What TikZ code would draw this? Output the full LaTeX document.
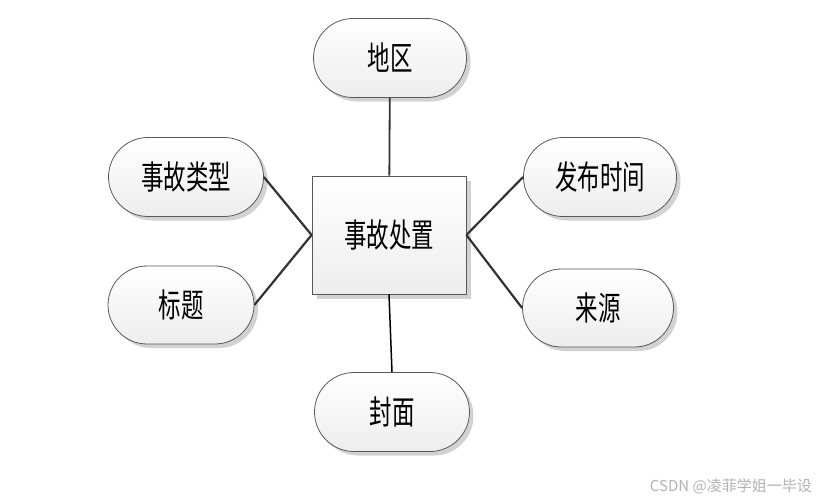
\documentclass[tikz,border=0pt]{standalone}
\usepackage{fontspec}
\newfontfamily\cjk[FakeStretch=0.68]{Noto Sans CJK SC}
\newfontfamily\wmfont{Noto Sans CJK SC}
\usetikzlibrary{positioning}
\usetikzlibrary{shapes.misc}
\usetikzlibrary{shadows}
\tikzset{>=latex}
\tikzstyle{attr} = [rounded rectangle, draw=black!65, line width=0.8pt, top color=white, bottom color=black!7, minimum width=153pt, minimum height=79pt, inner sep=0pt, font=\cjk\fontsize{33}{33}\selectfont, drop shadow={shadow xshift=4pt, shadow yshift=-4pt, fill=black!35, opacity=0.5}]
\tikzstyle{ent} = [rectangle, draw=black!65, line width=0.8pt, top color=white, bottom color=black!7, minimum width=154pt, minimum height=118pt, inner sep=0pt, font=\cjk\fontsize{33}{33}\selectfont, drop shadow={shadow xshift=5pt, shadow yshift=-5pt, fill=black!35, opacity=0.5}]
\tikzstyle{link} = [-, draw=black!80, line width=2.2pt]

\begin{document}
\begin{tikzpicture}[x=1pt, y=-1pt]
\useasboundingbox (0, 0) rectangle (825, 501);
\node [ent] (SG) at (389, 235) {事故处置};
\node [attr] (DQ) at (390, 58) {地区};
\node [attr, minimum width=155pt] (LX) at (186, 177) {事故类型};
\node [attr, minimum width=146pt, minimum height=78pt] (BT) at (181, 305) {标题};
\node [attr] (SJ) at (600, 177) {发布时间};
\node [attr, minimum width=151pt, minimum height=78pt] (LY) at (598, 308) {来源};
\node [attr, minimum width=155pt] (FM) at (392, 412) {封面};

\draw [link, line width=1.8pt] (DQ) to (SG);
\draw [link] (LX.east) to (SG.west);
\draw [link] (BT.east) to (SG.west);
\draw [link] (SG.east) to (SJ.west);
\draw [link] (SG.east) to (LY.west);
\draw [link, line width=1.5pt, draw=black] (SG.south) to (FM.north);

\node [anchor=east, text=black!30, inner sep=0pt, font=\wmfont\fontsize{15}{15}\selectfont] (WM) at (812, 486) {CSDN @凌菲学姐一毕设};
\end{tikzpicture}
\end{document}
